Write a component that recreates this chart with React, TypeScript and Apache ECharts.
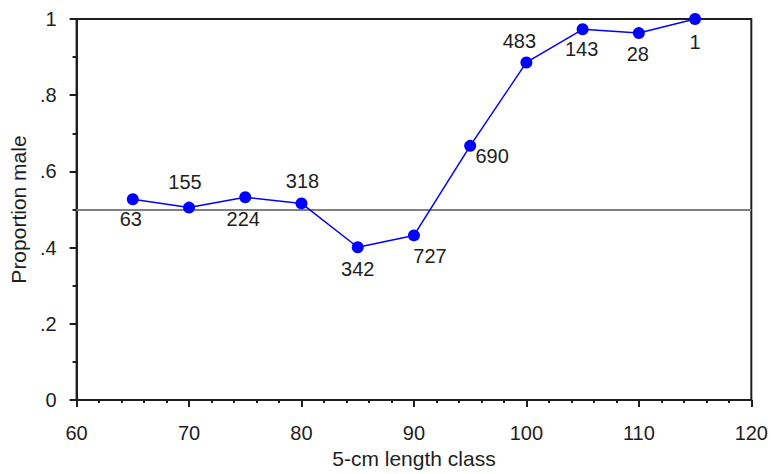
import React, { useEffect, useRef } from "react";
import * as echarts from "echarts";

// 5-cm length classes (cm) and the proportion of males in each
const lengthClasses = [65, 70, 75, 80, 85, 90, 95, 100, 105, 110, 115];
const proportionMale = [0.527, 0.505, 0.532, 0.516, 0.401, 0.432, 0.667, 0.886, 0.973, 0.963, 1.0];
// sample size per class, printed beside each point
const sampleSizes = [63, 155, 224, 318, 342, 727, 690, 483, 143, 28, 1];
const xTicks = [60, 70, 80, 90, 100, 110, 120];
const yTicks = [0, 0.2, 0.4, 0.6, 0.8, 1];
const referenceLevel = 0.5;

// where each count label sits relative to its marker (px)
const labelOffsets: [number, number][] = [
  [-2, 20],
  [-4, -26],
  [-2, 22],
  [1, -22],
  [0, 22],
  [16, 21],
  [22, 10],
  [-7, -21],
  [-1, 20],
  [-1, 21],
  [0, 23],
];

const FONT = "'Liberation Sans', Arial, sans-serif";
const INK = "#1e1e1e";

export default function App() {
  const ref = useRef<HTMLDivElement>(null);

  useEffect(() => {
    if (!ref.current) return;
    const chart = echarts.init(ref.current, null, { renderer: "svg" });

    const points = lengthClasses.map((x, i) => ({
      value: [x, proportionMale[i]],
      label: {
        show: true,
        position: "inside" as const,
        formatter: String(sampleSizes[i]),
        offset: labelOffsets[i],
        align: "center" as const,
        verticalAlign: "middle" as const,
        color: INK,
        fontFamily: FONT,
        fontSize: 20,
      },
    }));

    const yLabel = (v: number) =>
      v === 0 || v === 1 ? String(v) : v.toFixed(1).replace(/^0/, "");

    chart.setOption({
      animation: false,
      backgroundColor: "#ffffff",
      grid: {
        left: 73,
        right: 18,
        top: 19,
        bottom: 72,
        show: true,
        borderColor: INK,
        borderWidth: 2,
        backgroundColor: "transparent",
      },
      xAxis: {
        type: "value",
        min: xTicks[0],
        max: xTicks[xTicks.length - 1],
        interval: 10,
        name: "5-cm length class",
        nameLocation: "middle",
        nameGap: 48,
        nameTextStyle: { color: INK, fontFamily: FONT, fontSize: 21 },
        axisLine: { show: true, lineStyle: { color: INK, width: 2 } },
        axisTick: { show: true, length: 7, lineStyle: { color: INK, width: 2 } },
        minorTick: { show: true, splitNumber: 5, length: 3, lineStyle: { color: INK, width: 2 } },
        splitLine: { show: false },
        axisLabel: { color: INK, fontFamily: FONT, fontSize: 20, margin: 23 },
      },
      yAxis: {
        type: "value",
        min: yTicks[0],
        max: yTicks[yTicks.length - 1],
        interval: 0.2,
        name: "Proportion male",
        nameLocation: "middle",
        nameGap: 46,
        nameRotate: 90,
        nameTextStyle: { color: INK, fontFamily: FONT, fontSize: 21 },
        axisLine: { show: true, lineStyle: { color: INK, width: 2 } },
        axisTick: { show: true, length: 7, lineStyle: { color: INK, width: 2 } },
        minorTick: { show: true, splitNumber: 2, length: 4, lineStyle: { color: INK, width: 2 } },
        splitLine: { show: false },
        axisLabel: {
          color: INK,
          fontFamily: FONT,
          fontSize: 20,
          margin: 20,
          padding: [5, 0, 0, 0],
          formatter: yLabel,
        },
      },
      series: [
        {
          type: "line",
          data: points,
          symbol: "circle",
          symbolSize: 12,
          itemStyle: { color: "#0000ff" },
          lineStyle: { color: "#0000ff", width: 1.5 },
          z: 3,
          markLine: {
            silent: true,
            symbol: "none",
            label: { show: false },
            lineStyle: { color: "#808080", width: 2, type: "solid" },
            data: [{ yAxis: referenceLevel }],
            z: 1,
          },
        },
      ],
    });

    return () => chart.dispose();
  }, []);

  return (
    <div
      ref={ref}
      style={{ position: "absolute", left: 0, top: 0, width: 771, height: 474 }}
    />
  );
}
